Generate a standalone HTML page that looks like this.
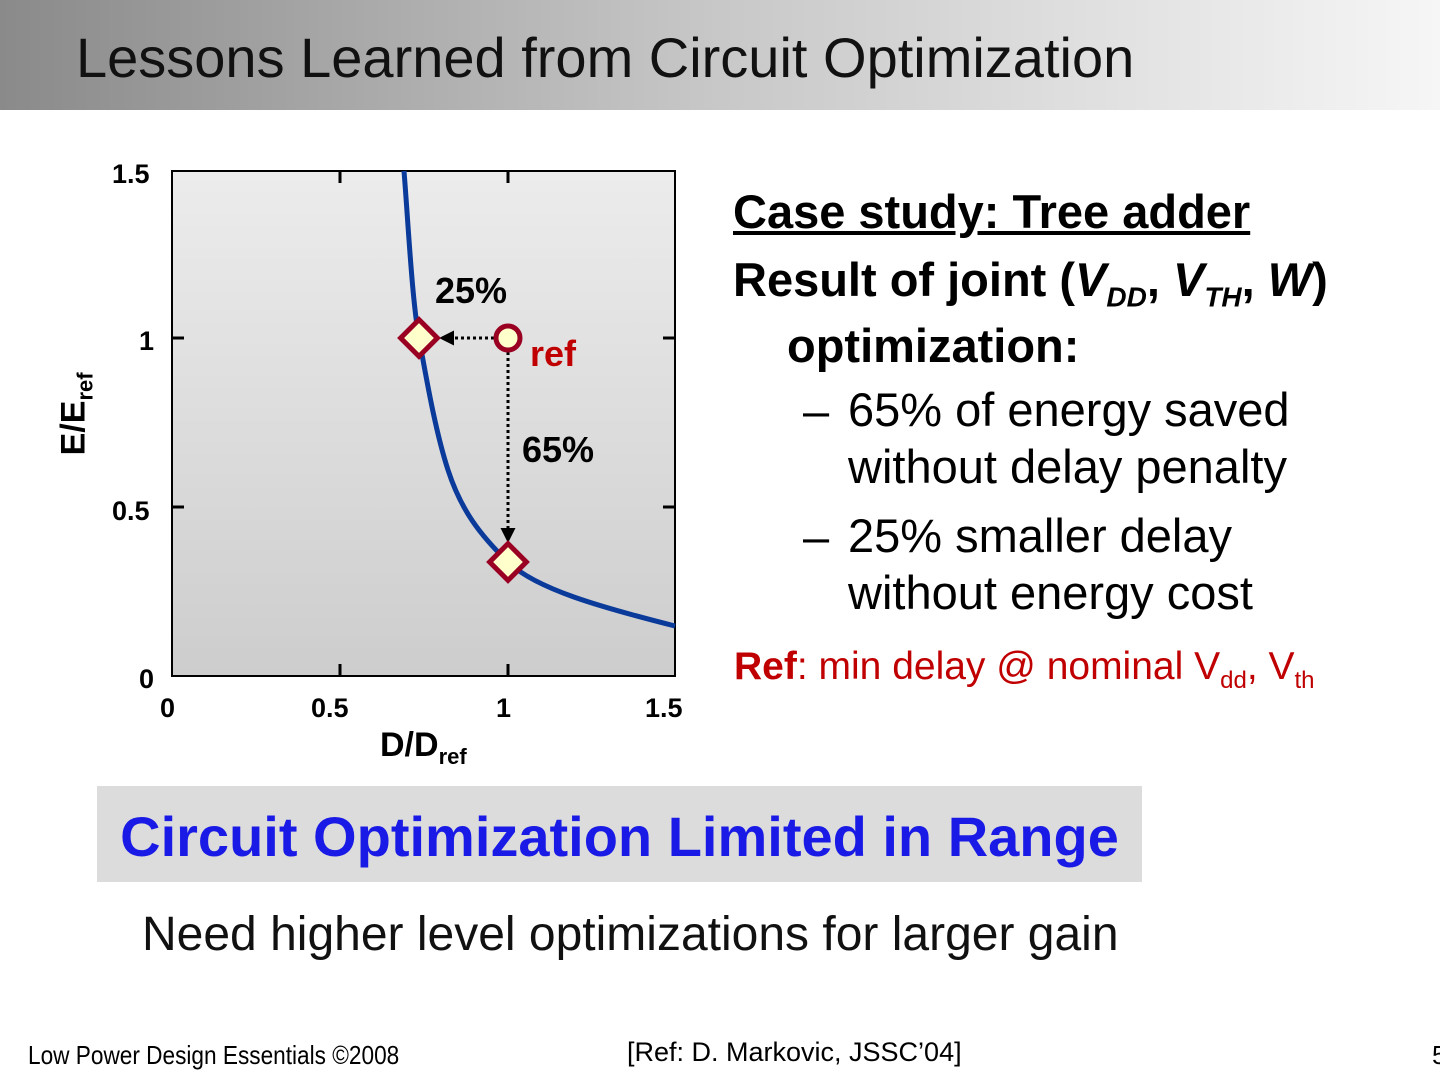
<!DOCTYPE html>
<html><head><meta charset="utf-8"><style>
body{margin:0;width:1440px;height:1080px;background:#fff;position:relative;overflow:hidden;font-family:"Liberation Sans",sans-serif}
.t{position:absolute;white-space:nowrap}
.k{font-size:27px;font-weight:bold}
</style></head><body>
<div style="position:absolute;left:0;top:0;width:1440px;height:110px;background:linear-gradient(90deg,#8a8a8a 0%,#c8c8c8 50%,#f6f6f6 100%)"></div>
<div class="t" style="left:76px;top:25px;font-size:56px;color:#111">Lessons Learned from Circuit Optimization</div>

<svg style="position:absolute;left:0;top:0" width="1440" height="1080">
<defs><linearGradient id="g" x1="0" y1="0" x2="0" y2="1"><stop offset="0" stop-color="#ececec"/><stop offset="1" stop-color="#cdcdcd"/></linearGradient>
<marker id="ar" markerWidth="5" markerHeight="5" refX="4" refY="2.5" orient="auto" markerUnits="strokeWidth"><path d="M0,0 L5,2.5 L0,5z" fill="#000"/></marker></defs>
<rect x="172" y="171" width="503" height="505" fill="url(#g)" stroke="#000" stroke-width="2"/>
<g stroke="#000" stroke-width="3">
<line x1="340" y1="171" x2="340" y2="183"/><line x1="508" y1="171" x2="508" y2="183"/>
<line x1="340" y1="676" x2="340" y2="664"/><line x1="508" y1="676" x2="508" y2="664"/>
<line x1="172" y1="338" x2="184" y2="338"/><line x1="172" y1="507" x2="184" y2="507"/>
<line x1="675" y1="338" x2="663" y2="338"/><line x1="675" y1="507" x2="663" y2="507"/>
</g>
<path d="M404,171 C408,220 412,300 419,338 S435,430 448,470 S480,535 508,562 S600,607 675,626" fill="none" stroke="#0a3a9a" stroke-width="5"/>
<line x1="494" y1="338" x2="442" y2="338" stroke="#000" stroke-width="3" stroke-dasharray="3,3" marker-end="url(#ar)"/>
<line x1="508" y1="352" x2="508" y2="540" stroke="#000" stroke-width="3" stroke-dasharray="3,3" marker-end="url(#ar)"/>
<rect x="406" y="325" width="26" height="26" transform="rotate(45 419 338)" fill="#ffffcc" stroke="#990022" stroke-width="5"/>
<rect x="495" y="549" width="26" height="26" transform="rotate(45 508 562)" fill="#ffffcc" stroke="#990022" stroke-width="5"/>
<circle cx="508" cy="338" r="12" fill="#ffffcc" stroke="#990022" stroke-width="5"/>
</svg>
<div class="t k" style="left:112px;top:159px">1.5</div>
<div class="t k" style="left:139px;top:326px">1</div>
<div class="t k" style="left:112px;top:496px">0.5</div>
<div class="t k" style="left:139px;top:664px">0</div>
<div class="t k" style="left:160px;top:693px">0</div>
<div class="t k" style="left:311px;top:693px">0.5</div>
<div class="t k" style="left:496px;top:693px">1</div>
<div class="t k" style="left:645px;top:693px">1.5</div>
<div class="t" style="left:380px;top:726px;font-size:34px;font-weight:bold">D/D<sub style="font-size:22px">ref</sub></div>
<div class="t" style="left:35px;top:392px;font-size:34px;font-weight:bold;transform:rotate(-90deg);transform-origin:center">E/E<sub style="font-size:22px">ref</sub></div>
<div class="t" style="left:435px;top:270px;font-size:36px;font-weight:bold">25%</div>
<div class="t" style="left:522px;top:429px;font-size:36px;font-weight:bold">65%</div>
<div class="t" style="left:530px;top:333px;font-size:36px;font-weight:bold;color:#c00000">ref</div>

<div class="t" style="left:733px;top:184px;font-size:47px;font-weight:bold;text-decoration:underline">Case study: Tree adder</div>
<div class="t" style="left:733px;top:252px;font-size:47px;font-weight:bold">Result of joint (<i>V<sub style="font-size:28px">DD</sub></i>, <i>V<sub style="font-size:28px">TH</sub></i>, <i>W</i>)</div>
<div class="t" style="left:787px;top:318px;font-size:47px;font-weight:bold">optimization:</div>
<div class="t" style="left:803px;top:383px;font-size:47px">–</div>
<div class="t" style="left:848px;top:381px;font-size:47px;line-height:57px">65% of energy saved<br>without delay penalty</div>
<div class="t" style="left:803px;top:509px;font-size:47px">–</div>
<div class="t" style="left:848px;top:507px;font-size:47px;line-height:57px">25% smaller delay<br>without energy cost</div>
<div class="t" style="left:734px;top:645px;font-size:39px;color:#c00000"><b>Ref</b>: min delay @ nominal V<sub style="font-size:24px">dd</sub>, V<sub style="font-size:24px">th</sub></div>

<div style="position:absolute;left:97px;top:786px;width:1045px;height:96px;background:#dcdcdc"></div>
<div class="t" style="left:97px;top:804px;width:1045px;text-align:center;font-size:56px;font-weight:bold;color:#1a1ae6">Circuit Optimization Limited in Range</div>
<div class="t" style="left:142px;top:907px;font-size:48px;color:#111">Need higher level optimizations for larger gain</div>

<div class="t" style="left:28px;top:1040px;font-size:26px;transform:scaleX(0.87);transform-origin:left">Low Power Design Essentials ©2008</div>
<div class="t" style="left:627px;top:1037px;font-size:27px">[Ref: D. Markovic, JSSC’04]</div>
<div class="t" style="left:1432px;top:1040px;font-size:26px">5</div>
</body></html>
